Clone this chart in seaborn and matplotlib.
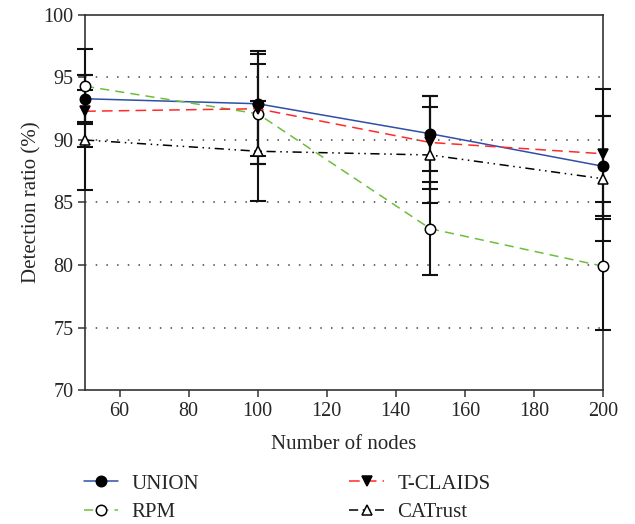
import pandas as pd
import matplotlib
matplotlib.use("Agg")
import matplotlib.pyplot as plt
import seaborn as sns

# values
nodes = [50, 100, 150, 200]

union = [93.3, 92.9, 90.5, 87.9]
union_err = [1.9, 4.2, 3.0, 4.0]

t_claids = [92.3, 92.5, 89.8, 88.9]
t_claids_err = [2.9, 4.4, 3.7, 5.2]

rpm = [94.3, 92.1, 82.9, 79.9]
rpm_err = [3.0, 4.0, 3.7, 5.1]

catrust = [90.0, 89.1, 88.8, 86.9]
catrust_err = [4.0, 4.0, 3.85, 5.0]

yticks = [70, 75, 80, 85, 90, 95, 100]
xticks = [60, 80, 100, 120, 140, 160, 180, 200]

sns.set_style("ticks")
plt.rcParams['font.family'] = ['Liberation Serif', 'DejaVu Serif']

fig = plt.figure(figsize=(6.35, 5.24), dpi=100)
ax = fig.add_axes([0.134, 0.2557, 0.8156, 0.7157])

for yv in yticks[1:-1]:
    ax.axhline(yv, color='#444444', linestyle=(0, (1, 6)), linewidth=1.1, zorder=0)

series = [
    ("UNION", union, union_err, '#2f4fa8', '-', 'o', 'black'),
    ("RPM", rpm, rpm_err, '#6cbf3c', (0, (6, 4)), 'o', 'white'),
    ("T-CLAIDS", t_claids, t_claids_err, '#ff2a2a', (0, (7, 4)), 'v', 'black'),
    ("CATrust", catrust, catrust_err, 'black', (0, (6, 3, 1, 3, 1, 3)), '^', 'white'),
]

for name, vals, errs, col, ls, mk, fc in series:
    eb = ax.errorbar(nodes, vals, yerr=errs, fmt='none', ecolor='#111111',
                     elinewidth=1.5, capsize=5.5, capthick=1.5, zorder=3)
    for art in eb.lines[1] + eb.lines[2]:
        art.set_clip_on(False)
    df = pd.DataFrame({"nodes": nodes, "ratio": vals})
    sns.lineplot(data=df, x="nodes", y="ratio", ax=ax, color=col, linestyle=ls,
                 linewidth=1.1, marker=mk, markersize=7.5, markerfacecolor=fc,
                 markeredgecolor='black', markeredgewidth=1.1, label=name,
                 zorder=4, clip_on=False)

ax.set_xlim(50, 200)
ax.set_ylim(70, 100)
ax.set_xticks(xticks)
ax.set_yticks(yticks)
ax.tick_params(labelsize=14.5, length=5, width=1.1, color='#333333', direction='out')
ax.set_xlabel("Number of nodes", fontsize=15, labelpad=10)
ax.set_ylabel("Detection ratio (%)", fontsize=15, labelpad=1.5)
for sp in ax.spines.values():
    sp.set_color('#333333')
    sp.set_linewidth(1.2)

handles, labels = ax.get_legend_handles_labels()
ax.legend_.remove()
fig.legend(handles, labels, ncol=2, loc='upper left', bbox_to_anchor=(0.119, 0.111),
           borderaxespad=0, frameon=False, fontsize=15, handlelength=1.65,
           handletextpad=0.65, columnspacing=7.2, labelspacing=0.42)

fig.savefig("out.png", dpi=100)
